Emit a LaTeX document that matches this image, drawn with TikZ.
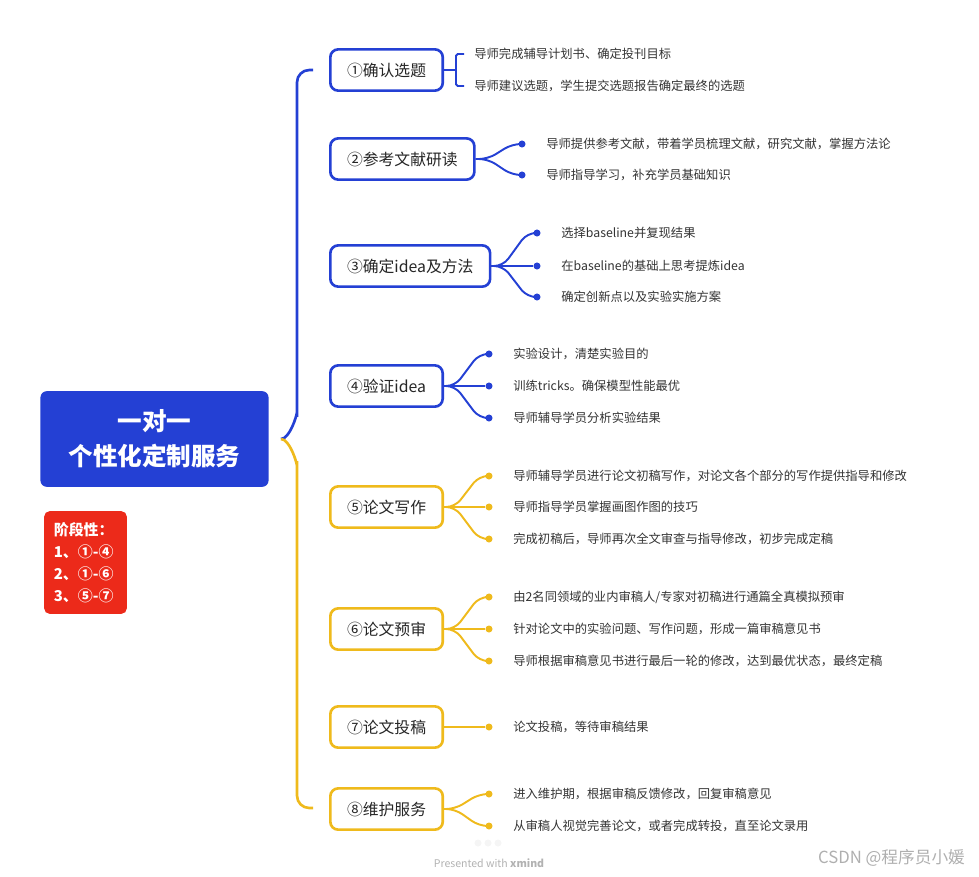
\documentclass[tikz,border=0pt]{standalone}
\usepackage{fontspec}
\setmainfont{Noto Sans CJK SC}
\usetikzlibrary{positioning}
\definecolor{mapblue}{RGB}{36,64,212}
\definecolor{mapyellow}{RGB}{239,186,28}
\definecolor{stagered}{RGB}{236,42,26}
\definecolor{leafgray}{RGB}{51,51,51}
\definecolor{markgray}{RGB}{175,175,175}

\begin{document}
\begin{tikzpicture}[
  x=0.02cm, y=-0.02cm,
  topic/.style={draw=#1, line width=1.5pt, rounded corners=4.5pt, fill=white, anchor=west,
    minimum height=23.5pt, inner xsep=9.5pt, font=\fontsize{9}{11}\selectfont, text=black!85},
  leaf/.style={anchor=west, inner sep=0pt, font=\fontsize{7}{9}\selectfont, text=leafgray},
  bud/.style={circle, fill=#1, inner sep=0pt, minimum size=4pt},
  twig/.style={draw=#1, line width=1.1pt, rounded corners=5pt},
  spine/.style={draw=#1, line width=1.5pt, rounded corners=7pt},
  mainbox/.style={fill=mapblue, rounded corners=3.5pt, minimum width=129.8pt, minimum height=54.4pt,
    align=center, text=white, font=\fontsize{14}{20}\selectfont\bfseries},
  stagebox/.style={fill=stagered, rounded corners=3pt, text width=36pt, inner xsep=5.5pt,
    minimum height=58.4pt, align=left, text=white, font=\fontsize{8.5}{12.5}\selectfont\bfseries}
]
\useasboundingbox (0,0) rectangle (979,876);

\node[mainbox] (Core) at (154.5,439) {一对一\\个性化定制服务};
\node[stagebox] (Stage) at (85.5,562.5) {阶段性：\\1、①-④\\2、①-⑥\\3、⑤-⑦};

\node[topic=mapblue] (T1) at (329,70) {①确认选题};
\node[topic=mapblue] (T2) at (329,159) {②参考文献研读};
\node[topic=mapblue] (T3) at (329,266) {③确定idea及方法};
\node[topic=mapblue] (T4) at (329,386) {④验证idea};
\node[topic=mapyellow] (T5) at (329,507) {⑤论文写作};
\node[topic=mapyellow] (T6) at (329,629) {⑥论文预审};
\node[topic=mapyellow] (T7) at (329,727) {⑦论文投稿};
\node[topic=mapyellow] (T8) at (329,809) {⑧维护服务};

\coordinate (Jm) at (281,439);
\coordinate (E1) at (313,70);
\coordinate (E8) at (313,808);
\draw[spine=mapblue] (Jm) to[out=0, in=90] (297,424) -- (297,70) -- (E1);
\draw[spine=mapyellow] (Jm) to[out=0, in=-90] (297,454) -- (297,808) -- (E8);

\node[leaf] (L11) at (474,54) {导师完成辅导计划书、确定投刊目标};
\node[leaf] (L12) at (474,86) {导师建议选题，学生提交选题报告确定最终的选题};
\coordinate (K11) at (464,54);
\coordinate (K12) at (464,86);
\draw[twig=mapblue, rounded corners=1pt] (T1.east) -- (456,70);
\draw[twig=mapblue, rounded corners=1pt] (K11) -| (456,70) |- (K12);

\coordinate (J2) at (488,159);
\node[bud=mapblue] (D21) at (522,144) {};
\node[bud=mapblue] (D22) at (522,175) {};
\node[leaf] (L21) at (546,144) {导师提供参考文献，带着学员梳理文献，研究文献，掌握方法论};
\node[leaf] (L22) at (546,175) {导师指导学习，补充学员基础知识};
\draw[twig=mapblue] (T2.east) -- (J2) -- (512,144) -- (D21);
\draw[twig=mapblue] (T2.east) -- (J2) -- (512,175) -- (D22);

\coordinate (J3) at (503,266);
\node[bud=mapblue] (D31) at (537,233) {};
\node[bud=mapblue] (D32) at (537,266) {};
\node[bud=mapblue] (D33) at (537,297) {};
\node[leaf] (L31) at (561,233) {选择baseline并复现结果};
\node[leaf] (L32) at (561,266) {在baseline的基础上思考提炼idea};
\node[leaf] (L33) at (561,297) {确定创新点以及实验实施方案};
\draw[twig=mapblue] (T3.east) -- (J3) -- (527,233) -- (D31);
\draw[twig=mapblue] (T3.east) -- (D32);
\draw[twig=mapblue] (T3.east) -- (J3) -- (527,297) -- (D33);

\coordinate (J4) at (455,386);
\node[bud=mapblue] (D41) at (489,354) {};
\node[bud=mapblue] (D42) at (489,386) {};
\node[bud=mapblue] (D43) at (489,418) {};
\node[leaf] (L41) at (513,354) {实验设计，清楚实验目的};
\node[leaf] (L42) at (513,386) {训练tricks。确保模型性能最优};
\node[leaf] (L43) at (513,418) {导师辅导学员分析实验结果};
\draw[twig=mapblue] (T4.east) -- (J4) -- (479,354) -- (D41);
\draw[twig=mapblue] (T4.east) -- (D42);
\draw[twig=mapblue] (T4.east) -- (J4) -- (479,418) -- (D43);

\coordinate (J5) at (455,507);
\node[bud=mapyellow] (D51) at (489,476) {};
\node[bud=mapyellow] (D52) at (489,507) {};
\node[bud=mapyellow] (D53) at (489,539) {};
\node[leaf] (L51) at (513,476) {导师辅导学员进行论文初稿写作，对论文各个部分的写作提供指导和修改};
\node[leaf] (L52) at (513,507) {导师指导学员掌握画图作图的技巧};
\node[leaf] (L53) at (513,539) {完成初稿后，导师再次全文审查与指导修改，初步完成定稿};
\draw[twig=mapyellow] (T5.east) -- (J5) -- (479,476) -- (D51);
\draw[twig=mapyellow] (T5.east) -- (D52);
\draw[twig=mapyellow] (T5.east) -- (J5) -- (479,539) -- (D53);

\coordinate (J6) at (455,629);
\node[bud=mapyellow] (D61) at (489,597) {};
\node[bud=mapyellow] (D62) at (489,629) {};
\node[bud=mapyellow] (D63) at (489,661) {};
\node[leaf] (L61) at (513,597) {由2名同领域的业内审稿人/专家对初稿进行通篇全真模拟预审};
\node[leaf] (L62) at (513,629) {针对论文中的实验问题、写作问题，形成一篇审稿意见书};
\node[leaf] (L63) at (513,661) {导师根据审稿意见书进行最后一轮的修改，达到最优状态，最终定稿};
\draw[twig=mapyellow] (T6.east) -- (J6) -- (479,597) -- (D61);
\draw[twig=mapyellow] (T6.east) -- (D62);
\draw[twig=mapyellow] (T6.east) -- (J6) -- (479,661) -- (D63);

\node[bud=mapyellow] (D71) at (489,727) {};
\node[leaf] (L71) at (513,727) {论文投稿，等待审稿结果};
\draw[twig=mapyellow] (T7.east) -- (D71);

\coordinate (J8) at (455,809);
\node[bud=mapyellow] (D81) at (489,794) {};
\node[bud=mapyellow] (D82) at (489,826) {};
\node[leaf] (L81) at (513,794) {进入维护期，根据审稿反馈修改，回复审稿意见};
\node[leaf] (L82) at (513,826) {从审稿人视觉完善论文，或者完成转投，直至论文录用};
\draw[twig=mapyellow] (T8.east) -- (J8) -- (479,794) -- (D81);
\draw[twig=mapyellow] (T8.east) -- (J8) -- (479,826) -- (D82);

\node[circle, fill=black!4, inner sep=0pt, minimum size=4pt] (P1) at (478,843) {};
\node[circle, fill=black!4, inner sep=0pt, minimum size=4pt] (P2) at (488,843) {};
\node[circle, fill=black!4, inner sep=0pt, minimum size=4pt] (P3) at (498,843) {};
\node[text=black!30, font=\fontsize{6}{7}\selectfont] (Credit) at (489,863) {Presented with \textbf{xmind}};
\node[anchor=west, text=markgray, font=\fontsize{9.5}{11}\selectfont] (Mark) at (812,858) {CSDN @程序员小媛};

\end{tikzpicture}
\end{document}
